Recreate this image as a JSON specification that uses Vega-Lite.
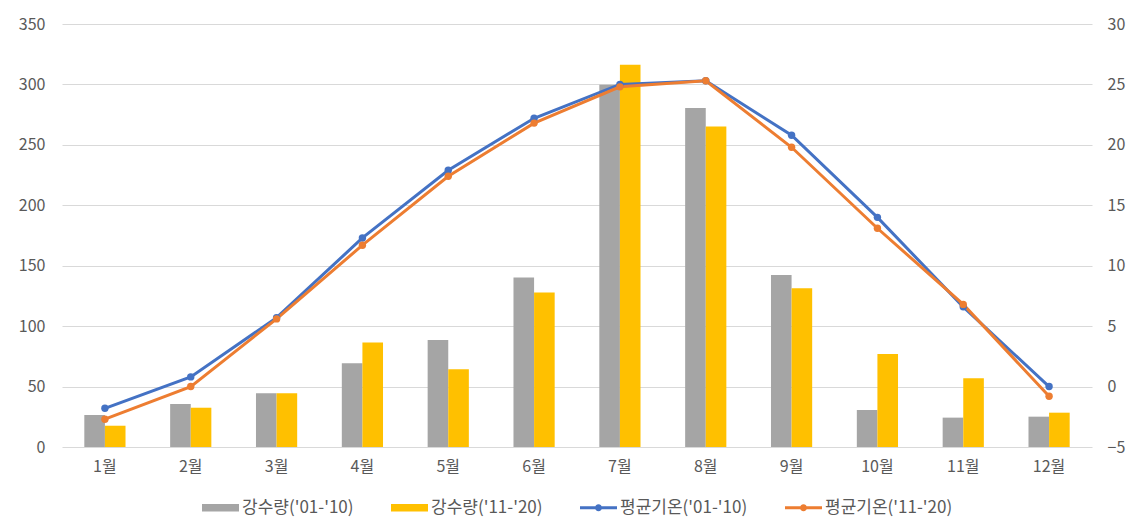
{
  "$schema": "https://vega.github.io/schema/vega-lite/v6.json",
  "width": 1030,
  "height": 423,
  "autosize": {"type": "none"},
  "padding": {"left": 62, "top": 24, "right": 41, "bottom": 83},
  "background": "white",
  "config": {
    "font": "Noto Sans CJK KR",
    "view": {"stroke": null},
    "axis": {
      "labelFont": "Noto Sans CJK KR",
      "labelFontSize": 16,
      "labelColor": "#595959",
      "title": null,
      "ticks": false,
      "domain": false
    },
    "legend": {
      "layout": {"bottom": {"anchor": "middle"}}
    }
  },
  "datasets": {
    "rain": [
      {"month": "1월", "series": "강수량('01-'10)", "value": 26.5},
      {"month": "2월", "series": "강수량('01-'10)", "value": 35.6},
      {"month": "3월", "series": "강수량('01-'10)", "value": 44.4},
      {"month": "4월", "series": "강수량('01-'10)", "value": 69.3},
      {"month": "5월", "series": "강수량('01-'10)", "value": 88.6},
      {"month": "6월", "series": "강수량('01-'10)", "value": 140.2},
      {"month": "7월", "series": "강수량('01-'10)", "value": 299.7},
      {"month": "8월", "series": "강수량('01-'10)", "value": 280.4},
      {"month": "9월", "series": "강수량('01-'10)", "value": 142.4},
      {"month": "10월", "series": "강수량('01-'10)", "value": 30.6},
      {"month": "11월", "series": "강수량('01-'10)", "value": 24.3},
      {"month": "12월", "series": "강수량('01-'10)", "value": 25.1},
      {"month": "1월", "series": "강수량('11-'20)", "value": 17.6},
      {"month": "2월", "series": "강수량('11-'20)", "value": 32.5},
      {"month": "3월", "series": "강수량('11-'20)", "value": 44.4},
      {"month": "4월", "series": "강수량('11-'20)", "value": 86.4},
      {"month": "5월", "series": "강수량('11-'20)", "value": 64.3},
      {"month": "6월", "series": "강수량('11-'20)", "value": 127.8},
      {"month": "7월", "series": "강수량('11-'20)", "value": 316.2},
      {"month": "8월", "series": "강수량('11-'20)", "value": 265.2},
      {"month": "9월", "series": "강수량('11-'20)", "value": 131.4},
      {"month": "10월", "series": "강수량('11-'20)", "value": 77.0},
      {"month": "11월", "series": "강수량('11-'20)", "value": 56.9},
      {"month": "12월", "series": "강수량('11-'20)", "value": 28.4}
    ],
    "temp": [
      {"month": "1월", "series": "평균기온('01-'10)", "value": -1.8},
      {"month": "2월", "series": "평균기온('01-'10)", "value": 0.8},
      {"month": "3월", "series": "평균기온('01-'10)", "value": 5.7},
      {"month": "4월", "series": "평균기온('01-'10)", "value": 12.3},
      {"month": "5월", "series": "평균기온('01-'10)", "value": 17.9},
      {"month": "6월", "series": "평균기온('01-'10)", "value": 22.2},
      {"month": "7월", "series": "평균기온('01-'10)", "value": 25.0},
      {"month": "8월", "series": "평균기온('01-'10)", "value": 25.3},
      {"month": "9월", "series": "평균기온('01-'10)", "value": 20.8},
      {"month": "10월", "series": "평균기온('01-'10)", "value": 14.0},
      {"month": "11월", "series": "평균기온('01-'10)", "value": 6.6},
      {"month": "12월", "series": "평균기온('01-'10)", "value": 0.0},
      {"month": "1월", "series": "평균기온('11-'20)", "value": -2.7},
      {"month": "2월", "series": "평균기온('11-'20)", "value": 0.0},
      {"month": "3월", "series": "평균기온('11-'20)", "value": 5.6},
      {"month": "4월", "series": "평균기온('11-'20)", "value": 11.7},
      {"month": "5월", "series": "평균기온('11-'20)", "value": 17.4},
      {"month": "6월", "series": "평균기온('11-'20)", "value": 21.8},
      {"month": "7월", "series": "평균기온('11-'20)", "value": 24.8},
      {"month": "8월", "series": "평균기온('11-'20)", "value": 25.3},
      {"month": "9월", "series": "평균기온('11-'20)", "value": 19.8},
      {"month": "10월", "series": "평균기온('11-'20)", "value": 13.1},
      {"month": "11월", "series": "평균기온('11-'20)", "value": 6.8},
      {"month": "12월", "series": "평균기온('11-'20)", "value": -0.8}
    ]
  },
  "encoding": {
    "x": {
      "field": "month",
      "type": "nominal",
      "scale": {
        "domain": ["1월", "2월", "3월", "4월", "5월", "6월", "7월", "8월", "9월", "10월", "11월", "12월"],
        "paddingInner": 0.52,
        "paddingOuter": 0.26
      },
      "axis": {"labelAngle": 0, "labelPadding": 11}
    },
    "color": {
      "field": "series",
      "type": "nominal",
      "scale": {
        "domain": ["강수량('01-'10)", "강수량('11-'20)", "평균기온('01-'10)", "평균기온('11-'20)"],
        "range": ["#A5A5A5", "#FFC000", "#4472C4", "#ED7D31"]
      },
      "legend": {
        "title": null,
        "orient": "bottom",
        "direction": "horizontal",
        "offset": 15,
        "symbolSize": 1369,
        "labelFont": "Noto Sans CJK KR",
        "labelFontSize": 17,
        "labelColor": "#595959",
        "labelOffset": 3,
        "columnPadding": 37,
        "encode": {
          "symbols": {
            "update": {
              "shape": {"signal": "indexof(datum.value, '평균') >= 0 ? 'M-1,-0.08H1V0.08H-1Z M-0.19,0A0.19,0.19 0 1,1 0.19,0A0.19,0.19 0 1,1 -0.19,0Z' : 'M-1,-0.2H1V0.2H-1Z'"},
              "fill": {"scale": "color", "field": "value"},
              "fillOpacity": {"value": 1},
              "strokeWidth": {"value": 0},
              "opacity": {"value": 1}
            }
          }
        }
      }
    }
  },
  "layer": [
    {
      "data": {"name": "rain"},
      "mark": {"type": "bar"},
      "encoding": {
        "xOffset": {
          "field": "series",
          "type": "nominal",
          "scale": {"domain": ["강수량('01-'10)", "강수량('11-'20)"], "paddingInner": 0, "paddingOuter": 0}
        },
        "y": {
          "field": "value",
          "type": "quantitative",
          "scale": {"domain": [0, 350], "nice": false},
          "axis": {
            "orient": "left",
            "values": [0, 50, 100, 150, 200, 250, 300, 350],
            "grid": true,
            "gridColor": "#D9D9D9",
            "gridWidth": 1,
            "labelPadding": 17
          }
        }
      }
    },
    {
      "data": {"name": "temp"},
      "mark": {
        "type": "line",
        "strokeWidth": 3,
        "point": {"filled": true, "size": 55}
      },
      "encoding": {
        "y": {
          "field": "value",
          "type": "quantitative",
          "scale": {"domain": [-5, 30], "nice": false},
          "axis": {
            "orient": "right",
            "values": [-5, 0, 5, 10, 15, 20, 25, 30],
            "grid": false,
            "labelPadding": 15
          }
        }
      }
    }
  ],
  "resolve": {"scale": {"y": "independent"}}
}
